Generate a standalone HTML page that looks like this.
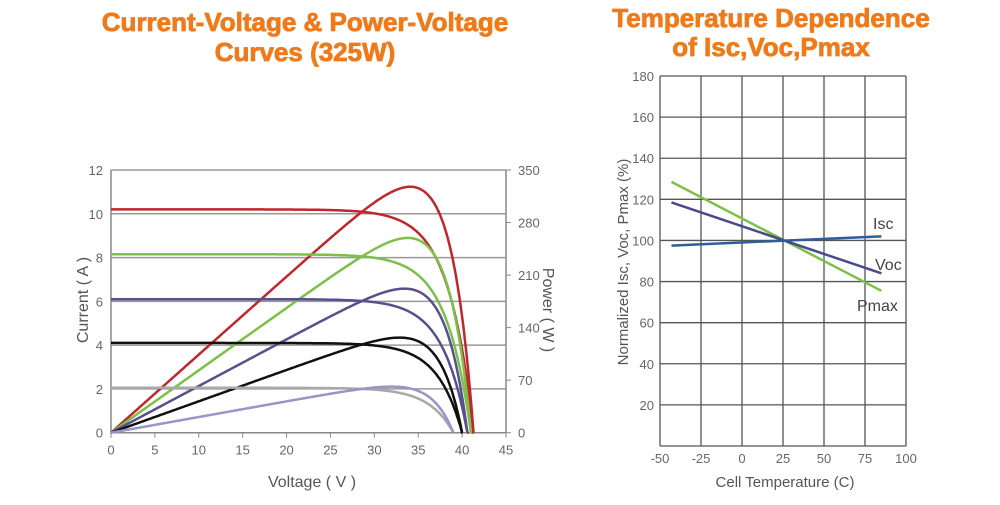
<!DOCTYPE html><html><head><meta charset="utf-8"><style>
body{margin:0;background:#fff;width:1000px;height:500px;overflow:hidden}
svg text{font-family:"Liberation Sans",Arial,sans-serif}
</style></head><body>
<svg id="s" width="1000" height="500" viewBox="0 0 1000 500" xmlns="http://www.w3.org/2000/svg">
<g font-weight="bold" fill="#f07a1a" font-size="26" text-anchor="middle" stroke="#f07a1a" stroke-width="0.8">
<text x="305" y="31">Current-Voltage &amp; Power-Voltage</text>
<text x="305" y="61">Curves (325W)</text>
<text x="771" y="27">Temperature Dependence</text>
<text x="771" y="56">of Isc,Voc,Pmax</text>
</g>
<g id="L"></g><g id="R"></g>
<g fill="#555" font-size="16">
<text transform="translate(88,300) rotate(-90)" text-anchor="middle">Current ( A )</text>
<text transform="translate(543,310) rotate(90)" text-anchor="middle">Power ( W )</text>
<text x="312" y="487" text-anchor="middle">Voltage ( V )</text>
<text transform="translate(628,262) rotate(-90)" text-anchor="middle" font-size="15">Normalized Isc, Voc, Pmax (%)</text>
<text x="785" y="487" text-anchor="middle" font-size="15">Cell Temperature (C)</text>
</g>
</svg>
<script>
var NS="http://www.w3.org/2000/svg";
function el(p,t,a,txt){var e=document.createElementNS(NS,t);for(var k in a)e.setAttribute(k,a[k]);if(txt!=null)e.textContent=txt;p.appendChild(e);return e;}
var L=document.getElementById('L'),R=document.getElementById('R');
var x0=111,xs=395/45,y0=432.7,ys=(432.7-170)/12,ps=(432.7-170)/350;
function X(v){return x0+v*xs}function Y(i){return y0-i*ys}function YP(p){return y0-p*ps*1.02}
for(var i=0;i<=12;i+=2){el(L,'line',{x1:x0,x2:X(45),y1:Y(i),y2:Y(i),stroke:i==0?'#888':'#999','stroke-width':1.5});
el(L,'text',{x:x0-8,y:Y(i)+5,'text-anchor':'end','font-size':13,fill:'#666'},i);}
el(L,'line',{x1:x0,x2:x0,y1:Y(0),y2:Y(12),stroke:'#888','stroke-width':1.5});
el(L,'line',{x1:X(45),x2:X(45),y1:Y(0),y2:Y(12),stroke:'#888','stroke-width':1.5});
for(var v=0;v<=45;v+=5){el(L,'line',{x1:X(v),x2:X(v),y1:y0,y2:y0+5,stroke:'#888'});
el(L,'text',{x:X(v),y:y0+22,'text-anchor':'middle','font-size':13,fill:'#666'},v);}
for(var p=0;p<=350;p+=70){var yy=y0-p*ps;el(L,'line',{x1:X(45),x2:X(45)+5,y1:yy,y2:yy,stroke:'#888'});
el(L,'text',{x:X(45)+12,y:yy+5,'font-size':13,fill:'#666'},p);}
var C=[[10.2,41.3,'#c0262b','#c0262b'],[8.15,41,'#7cc04a','#7cc04a'],[6.1,40.6,'#58508c','#58508c'],[4.1,40,'#111','#111'],[2.05,39,'#a8a8a8','#9a94c8']];
var a=2.8;
C.forEach(function(c){var isc=c[0],voc=c[1];var di='',dp='';
for(var v=0;v<=voc+0.001;v+=0.1){var I=isc*(1-Math.exp((v-voc)/a))/(1-Math.exp(-voc/a));if(I<0)I=0;
di+=(v==0?'M':'L')+X(v).toFixed(1)+','+Y(I).toFixed(1);dp+=(v==0?'M':'L')+X(v).toFixed(1)+','+YP(v*I).toFixed(1);}
di+='L'+X(voc)+','+Y(0);dp+='L'+X(voc)+','+YP(0);
el(L,'path',{d:di,fill:'none',stroke:c[2],'stroke-width':2.5});
el(L,'path',{d:dp,fill:'none',stroke:c[3],'stroke-width':2.5});});
var rx0=660,rxs=246/150,ry0=446,rys=370/180;
function RX(t){return rx0+(t+50)*rxs}function RY(v){return ry0-v*rys}
for(var v=20;v<=180;v+=20){el(R,'line',{x1:rx0,x2:RX(100),y1:RY(v),y2:RY(v),stroke:'#555','stroke-width':1.3});
el(R,'text',{x:rx0-6,y:RY(v)+5,'text-anchor':'end','font-size':13,fill:'#666'},v);}
el(R,'line',{x1:rx0,x2:RX(100),y1:ry0,y2:ry0,stroke:'#555','stroke-width':1.3});
for(var t=-50;t<=100;t+=25){el(R,'line',{x1:RX(t),x2:RX(t),y1:RY(180),y2:ry0,stroke:'#555','stroke-width':1.3});
el(R,'text',{x:RX(t),y:ry0+17,'text-anchor':'middle','font-size':13,fill:'#666'},t);}
el(R,'line',{x1:RX(-43),y1:RY(128.5),x2:RX(85),y2:RY(75.5),stroke:'#7cc04a','stroke-width':2.5});
el(R,'line',{x1:RX(-43),y1:RY(118.5),x2:RX(85),y2:RY(84),stroke:'#4a4a8a','stroke-width':2.5});
el(R,'line',{x1:RX(-43),y1:RY(97.5),x2:RX(85),y2:RY(102),stroke:'#2e5d9a','stroke-width':2.5});
el(R,'text',{x:873,y:229,'font-size':16,fill:'#444'},'Isc');
el(R,'text',{x:875,y:270,'font-size':16,fill:'#444'},'Voc');
el(R,'text',{x:857,y:311,'font-size':16,fill:'#444'},'Pmax');
</script>
</body></html>
